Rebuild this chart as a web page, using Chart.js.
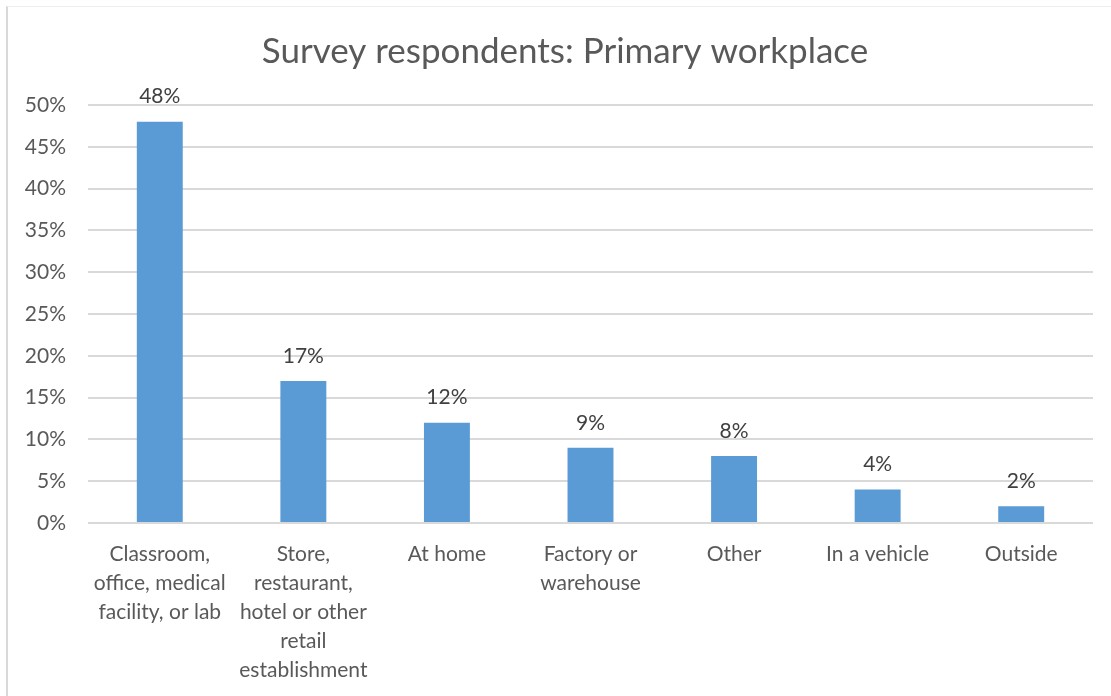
<!DOCTYPE html>
<html>
<head>
<meta charset="utf-8">
<title>Survey respondents: Primary workplace</title>
<script src="https://cdn.jsdelivr.net/npm/chart.js@4/dist/chart.umd.min.js"></script>
<style>
  body { margin: 0; background: #ffffff; overflow: hidden; }
  #frame {
    position: absolute; left: 6px; top: 6px; width: 1105px; height: 690px;
    border-left: 2px solid #d9d9d9; border-top: 1px solid #eeeeee;
  }
  #workplace-chart { position: absolute; left: 0; top: 0; }
</style>
</head>
<body>
<div id="frame"></div>
<canvas id="workplace-chart" width="1111" height="696"></canvas>
<script>
// Chart data
const categories = [
    ['Classroom,', 'office, medical', 'facility, or lab'],
    ['Store,', 'restaurant,', 'hotel or other', 'retail', 'establishment'],
    'At home',
    ['Factory or', 'warehouse'],
    'Other',
    'In a vehicle',
    'Outside'
];
const shares = [48, 17, 12, 9, 8, 4, 2];
const yTicks = [0, 5, 10, 15, 20, 25, 30, 35, 40, 45, 50];

const FONT = 'Lato, "Open Sans", sans-serif';

// Draws the percent value above each bar
const barValueLabels = {
    id: 'barValueLabels',
    afterDatasetsDraw(chart) {
        const ctx = chart.ctx;
        const meta = chart.getDatasetMeta(0);
        ctx.save();
        ctx.font = '21px ' + FONT;
        ctx.fillStyle = '#404040';
        ctx.textAlign = 'center';
        ctx.textBaseline = 'middle';
        meta.data.forEach((bar, i) => {
            ctx.fillText(shares[i] + '%', bar.x, bar.y - 25);
        });
        ctx.restore();
    }
};

// Nudges the title box so the heading sits a little right of the canvas centre
const titleShift = {
    id: 'titleShift',
    afterLayout(chart) {
        if (chart.titleBlock) chart.titleBlock.left += 37;
    }
};

const ctx = document.getElementById('workplace-chart').getContext('2d');
new Chart(ctx, {
    type: 'bar',
    data: {
        labels: categories,
        datasets: [{
            data: shares,
            backgroundColor: '#5b9bd5',
            borderWidth: 0,
            categoryPercentage: 1,
            barPercentage: 0.32
        }]
    },
    options: {
        responsive: false,
        animation: false,
        layout: { padding: { left: 0, right: 18, top: 0, bottom: 0 } },
        plugins: {
            legend: { display: false },
            tooltip: { enabled: false },
            title: {
                display: true,
                text: 'Survey respondents: Primary workplace',
                color: '#595959',
                font: { family: FONT, size: 35, weight: 'normal', lineHeight: 1.2 },
                padding: { top: 31, bottom: 32 }
            }
        },
        scales: {
            x: {
                grid: { display: false },
                border: { display: false },
                ticks: {
                    color: '#595959',
                    font: { family: FONT, size: 21, lineHeight: 1.38 },
                    padding: 9,
                    maxRotation: 0,
                    autoSkip: false
                },
                afterFit(scale) { scale.height = 173; }
            },
            y: {
                min: 0,
                max: 50,
                afterBuildTicks(scale) {
                    scale.ticks = yTicks.map(v => ({ value: v }));
                },
                grid: { color: '#d9d9d9', lineWidth: 2, drawTicks: false },
                border: { display: false },
                ticks: {
                    color: '#595959',
                    font: { family: FONT, size: 21 },
                    padding: 22,
                    callback: v => v + '%'
                },
                afterFit(scale) { scale.width = 88; }
            }
        }
    },
    plugins: [barValueLabels, titleShift]
});
</script>
</body>
</html>
